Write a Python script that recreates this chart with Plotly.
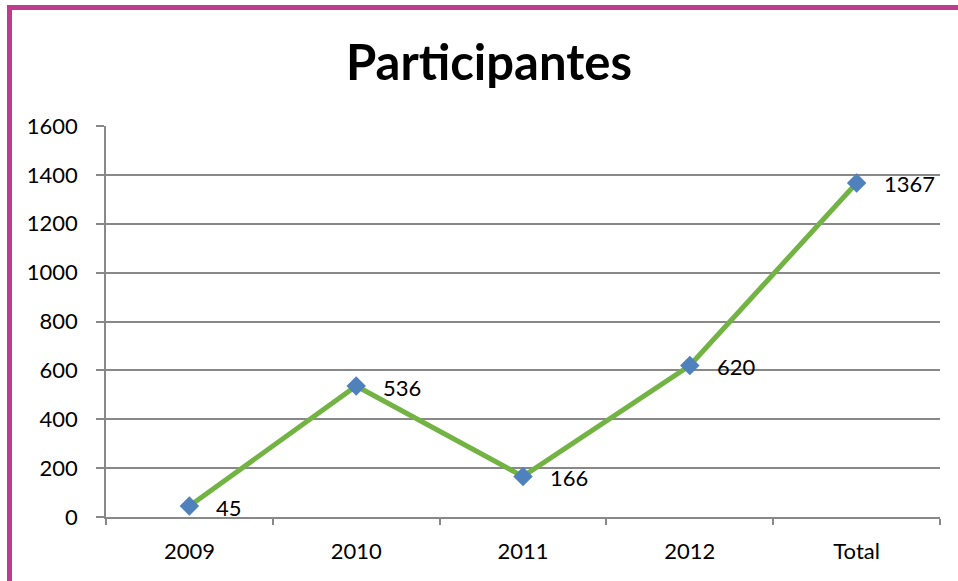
import plotly.graph_objects as go

categories = ["2009", "2010", "2011", "2012", "Total"]
participants = [45, 536, 166, 620, 1367]
labels = [str(v) for v in participants]
y_ticks = [0, 200, 400, 600, 800, 1000, 1200, 1400, 1600]

FONT = "Lato"
L, R, T, B = 106, 18, 126, 64
W, H = 958, 581
pw, ph = W - L - R, H - T - B

fig = go.Figure()
fig.add_trace(go.Scatter(
    x=categories, y=participants, mode="lines+markers",
    line=dict(color="#72B344", width=5),
    marker=dict(symbol="diamond", size=15, color="#4F81BD",
                line=dict(width=0)),
    hoverinfo="skip", showlegend=False,
))

for i, (v, t) in enumerate(zip(participants, labels)):
    fig.add_annotation(x=i, y=v, text=t, showarrow=False, xanchor="left",
                       yanchor="middle", xshift=25, yshift=-1,
                       font=dict(family=FONT, size=22, color="#000000"))

fig.add_shape(type="rect", xref="paper", yref="paper",
              x0=(9.5 - L) / pw, x1=(W + 20 - L) / pw,
              y0=-(H + 20 - (H - B)) / ph, y1=(H - B - 7.5) / ph,
              line=dict(color="#BF3B8D", width=5), layer="below")

fig.update_layout(
    width=W, height=H,
    margin=dict(l=L, r=R, t=T, b=B),
    paper_bgcolor="white", plot_bgcolor="white",
    title=dict(text="<b>Participantes</b>", x=(489 - L) / pw, xref="paper",
               xanchor="center", y=1 - 63 / H, yanchor="middle",
               font=dict(family=FONT, size=49, color="#000000")),
    xaxis=dict(
        type="category", showgrid=False, showline=True, linecolor="#888888",
        linewidth=1.5, ticks="outside", tickson="boundaries", ticklen=6,
        tickcolor="#888888", tickwidth=1.5,
        tickfont=dict(family=FONT, size=22, color="#000000"),
        ticklabelstandoff=14, range=[-0.5, 4.5],
    ),
    yaxis=dict(
        range=[0, 1600], tickvals=y_ticks, showgrid=True, gridcolor="#888888",
        gridwidth=1.5, showline=True, linecolor="#888888", linewidth=1.5,
        ticks="outside", ticklen=8, tickcolor="#888888", tickwidth=1.5,
        tickfont=dict(family=FONT, size=22, color="#000000"),
        ticklabelstandoff=14, zeroline=False,
    ),
)

fig.write_html("out.html", config={"displayModeBar": False},
               post_script="document.body.style.margin='0';")
